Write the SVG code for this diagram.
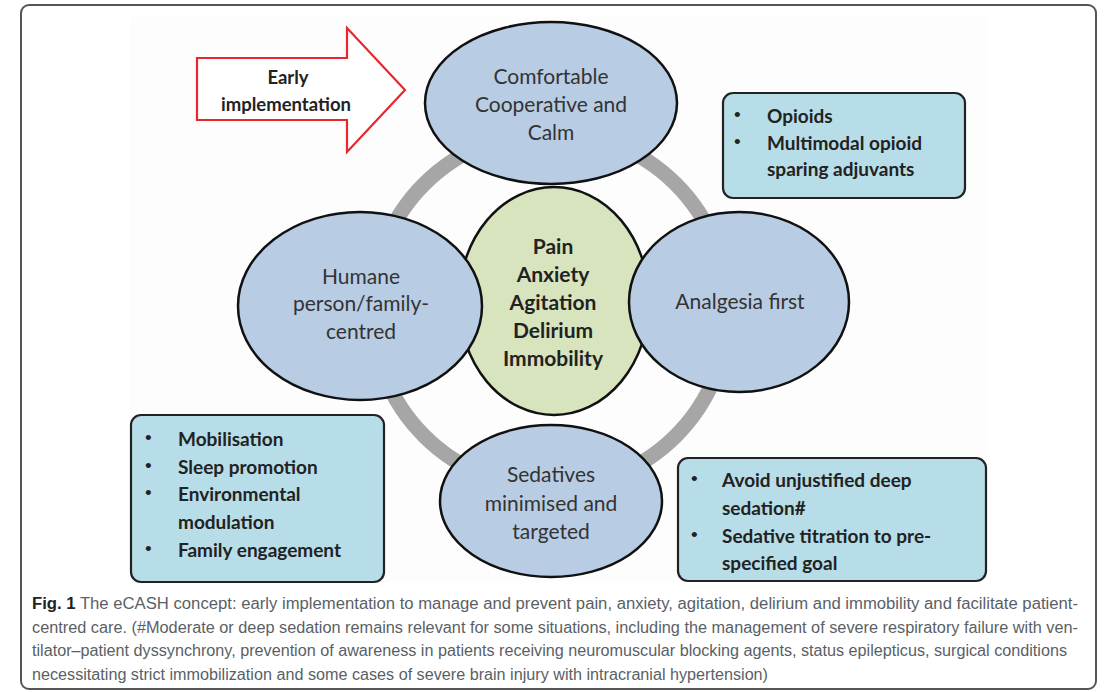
<svg xmlns="http://www.w3.org/2000/svg" width="1104" height="692" viewBox="0 0 1104 692">
<style>
.ell{fill:#b8cce4;stroke:#111;stroke-width:2.5}
.ctr{fill:#d7e4bd;stroke:#111;stroke-width:2.5}
.box{fill:#b7dde8;stroke:#222;stroke-width:2.2}
.t{font-family:Lato,"Liberation Sans",sans-serif;font-size:21px;fill:#333;text-anchor:middle;dominant-baseline:central}
.tb{font-family:Lato,"Liberation Sans",sans-serif;font-size:21px;font-weight:bold;fill:#222;text-anchor:middle;dominant-baseline:central}
.bx{font-family:Lato,"Liberation Sans",sans-serif;font-size:19px;font-weight:bold;fill:#222;dominant-baseline:central}
.bu{font-family:"Liberation Sans",sans-serif;font-size:19px;fill:#222;dominant-baseline:central}
.cap{font-family:"Liberation Sans",Arial,sans-serif;font-size:16px;fill:#5a5f66}
</style>
<rect x="21" y="5" width="1075" height="684" rx="8" fill="#fff" stroke="#555" stroke-width="2"/>
<rect x="130" y="17" width="858" height="565" fill="#fdfdfd"/>
<g id="connectors">
<ellipse cx="550" cy="310" rx="178" ry="178" fill="none" stroke="#a6a6a6" stroke-width="15"/>
</g>
<g id="node-center">
<ellipse class="ctr" cx="554" cy="301" rx="95" ry="114"/>
<text class="tb" x="553" y="245">Pain</text>
<text class="tb" x="553" y="273">Anxiety</text>
<text class="tb" x="553" y="301">Agitation</text>
<text class="tb" x="553" y="329">Delirium</text>
<text class="tb" x="553" y="357">Immobility</text>
</g>
<g id="node-top">
<ellipse class="ell" cx="551" cy="103" rx="126" ry="81"/>
<text class="t" x="551" y="75">Comfortable</text>
<text class="t" x="551" y="103">Cooperative and</text>
<text class="t" x="551" y="131">Calm</text>
</g>
<g id="node-left">
<ellipse class="ell" cx="360" cy="306" rx="122" ry="94"/>
<text class="t" x="361" y="275">Humane</text>
<text class="t" x="361" y="302">person/family-</text>
<text class="t" x="361" y="330">centred</text>
</g>
<g id="node-right">
<ellipse class="ell" cx="739" cy="302" rx="110" ry="90"/>
<text class="t" x="740" y="300">Analgesia first</text>
</g>
<g id="node-bottom">
<ellipse class="ell" cx="551" cy="501" rx="111" ry="76"/>
<text class="t" x="551" y="473">Sedatives</text>
<text class="t" x="551" y="502">minimised and</text>
<text class="t" x="551" y="530">targeted</text>
</g>
<g id="box-opioids">
<rect class="box" x="723" y="93" width="242" height="105" rx="10"/>
<text class="bu" x="734" y="114">•</text>
<text class="bx" x="767" y="115">Opioids</text>
<text class="bu" x="734" y="141">•</text>
<text class="bx" x="767" y="142">Multimodal opioid</text>
<text class="bx" x="767" y="168">sparing adjuvants</text>
</g>
<g id="box-humane">
<rect class="box" x="131" y="415" width="253" height="167" rx="10"/>
<text class="bu" x="145" y="437">•</text>
<text class="bx" x="178" y="438">Mobilisation</text>
<text class="bu" x="145" y="465">•</text>
<text class="bx" x="178" y="466">Sleep promotion</text>
<text class="bu" x="145" y="492">•</text>
<text class="bx" x="178" y="493">Environmental</text>
<text class="bx" x="178" y="521">modulation</text>
<text class="bu" x="145" y="548">•</text>
<text class="bx" x="178" y="549">Family engagement</text>
</g>
<g id="box-sedation">
<rect class="box" x="678" y="458" width="308" height="123" rx="10"/>
<text class="bu" x="691" y="478">•</text>
<text class="bx" x="722" y="479">Avoid unjustified deep</text>
<text class="bx" x="722" y="507">sedation#</text>
<text class="bu" x="691" y="534">•</text>
<text class="bx" x="722" y="535">Sedative titration to pre-</text>
<text class="bx" x="722" y="562">specified goal</text>
</g>
<g id="arrow-early">
<polygon points="197,58 347,58 347,28 405,90 347,152 347,120 197,120" fill="#fff" stroke="#e8262b" stroke-width="2.2"/>
<text class="bx" x="288" y="77" text-anchor="middle" style="font-size:18.5px">Early</text>
<text class="bx" x="286" y="104" text-anchor="middle" style="font-size:18.5px">implementation</text>
</g>
<g id="caption">
<text class="cap" x="32" y="609" textLength="1046" lengthAdjust="spacingAndGlyphs"><tspan font-weight="bold" fill="#222">Fig. 1</tspan> The eCASH concept: early implementation to manage and prevent pain, anxiety, agitation, delirium and immobility and facilitate patient-</text>
<text class="cap" x="32" y="633" textLength="1046" lengthAdjust="spacingAndGlyphs">centred care. (#Moderate or deep sedation remains relevant for some situations, including the management of severe respiratory failure with ven-</text>
<text class="cap" x="32" y="656" textLength="1035" lengthAdjust="spacingAndGlyphs">tilator–patient dyssynchrony, prevention of awareness in patients receiving neuromuscular blocking agents, status epilepticus, surgical conditions</text>
<text class="cap" x="32" y="680" textLength="736" lengthAdjust="spacingAndGlyphs">necessitating strict immobilization and some cases of severe brain injury with intracranial hypertension)</text>
</g>
</svg>
